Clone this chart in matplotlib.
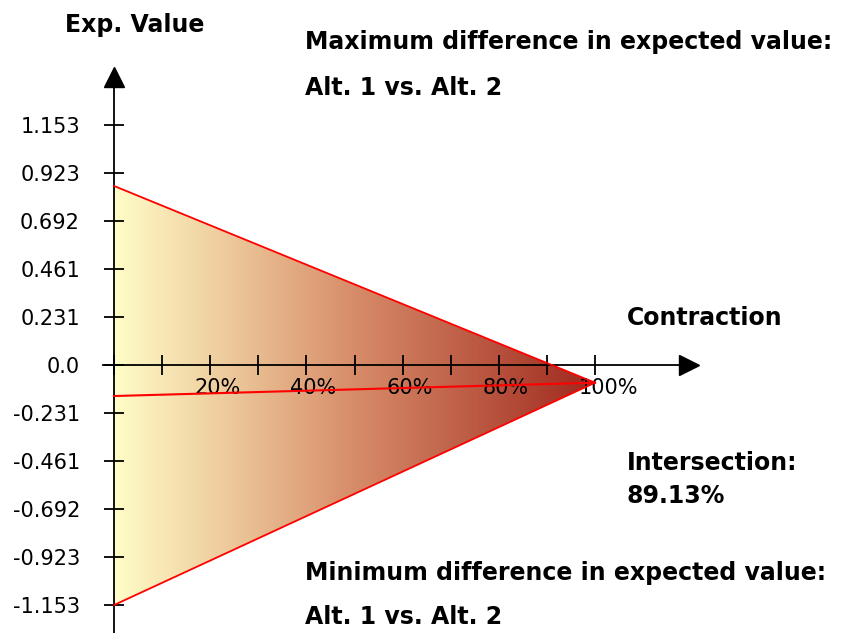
import matplotlib.pyplot as plt
import numpy as np
from matplotlib.colors import LinearSegmentedColormap
from matplotlib.patches import Polygon
from matplotlib.transforms import ScaledTranslation

# contraction (%) at both ends of the lines
contraction = [0, 100]
upper_line = [0.86, -0.085]   # max difference in expected value
middle_line = [-0.149, -0.085]
lower_line = [-1.153, -0.085]  # min difference in expected value

y_ticks = [1.153, 0.923, 0.692, 0.461, 0.231, 0.0, -0.231, -0.461, -0.692, -0.923, -1.153]
y_tick_labels = ["1.153", "0.923", "0.692", "0.461", "0.231", "0.0",
                 "-0.231", "-0.461", "-0.692", "-0.923", "-1.153"]
x_ticks = [0, 10, 20, 30, 40, 50, 60, 70, 80, 90, 100]
x_tick_labels = ["", "", "20%", "", "40%", "", "60%", "", "80%", "", "100%"]

intersection = "89.13%"

fig = plt.figure(figsize=(8.41, 6.33), dpi=100)
ax = fig.add_axes([0, 0, 1, 1])

# pixel mapping: x 0% -> 114px, 4.81 px per %; y 0 -> 365px, 208.2 px per unit
ax.set_xlim(-114 / 4.81, (841 - 114) / 4.81)
ax.set_ylim(-(633 - 365) / 208.2, 365 / 208.2)

# gradient fill clipped to the triangle
cmap = LinearSegmentedColormap.from_list(
    "yr", [(0, "#FFFDC8"), (0.2, "#F0D2A2"), (0.5, "#D78C69"), (1, "#A0281E")])
grad = np.linspace(0, 1, 256).reshape(1, -1)
img = ax.imshow(grad, cmap=cmap, aspect="auto",
                extent=[contraction[0], contraction[1], min(lower_line), max(upper_line)],
                zorder=1)
tri = Polygon([[contraction[0], upper_line[0]], [contraction[1], upper_line[1]],
               [contraction[0], lower_line[0]]], closed=True, transform=ax.transData,
              facecolor="none", edgecolor="none")
ax.add_patch(tri)
img.set_clip_path(tri)

ax.plot(contraction, upper_line, color="#FF0000", lw=1.3, zorder=4)
ax.plot(contraction, lower_line, color="#FF0000", lw=1.3, zorder=4)
ax.plot(contraction, middle_line, color="#FF0000", lw=1.5, zorder=4)

# axes through origin with arrows
for side in ["top", "right"]:
    ax.spines[side].set_visible(False)
ax.spines["left"].set_position(("data", 0))
ax.spines["bottom"].set_position(("data", 0))
ax.spines["left"].set_bounds(-1.29, 1.36)
ax.spines["bottom"].set_bounds(-2.2, 118)
ax.spines["left"].set_linewidth(1.3)
ax.spines["bottom"].set_linewidth(1.3)
ax.spines["left"].set_zorder(3)
ax.spines["bottom"].set_zorder(3)
ax.plot([0], [1.385], marker="^", color="black", markersize=15, clip_on=False, zorder=5)
ax.plot([119.5], [0], marker=">", color="black", markersize=15, clip_on=False, zorder=5)

ax.set_yticks(y_ticks)
ax.set_yticklabels(y_tick_labels)
ax.set_xticks(x_ticks)
ax.set_xticklabels(x_tick_labels)
ax.tick_params(axis="both", direction="inout", length=15, width=1.3, labelsize=15, zorder=3)
ax.tick_params(axis="y", pad=17)
ax.tick_params(axis="x", pad=2)
offset = ScaledTranslation(-16 / 100, 0, fig.dpi_scale_trans)
for lab in ax.get_xticklabels():
    lab.set_horizontalalignment("left")
    lab.set_transform(lab.get_transform() + offset)


def px_text(x, y, s):
    # place text by pixel position (top-left origin)
    ax.text(x, 633 - y, s, ha="left", va="center", fontsize=17,
            fontweight="bold", transform=None)


px_text(65, 25, "Exp. Value")
px_text(305, 42, "Maximum difference in expected value:")
px_text(305, 88, "Alt. 1 vs. Alt. 2")
px_text(627, 318, "Contraction")
px_text(627, 463, "Intersection:")
px_text(627, 496, intersection)
px_text(305, 573, "Minimum difference in expected value:")
px_text(305, 617, "Alt. 1 vs. Alt. 2")

fig.savefig("out.png", dpi=100)
